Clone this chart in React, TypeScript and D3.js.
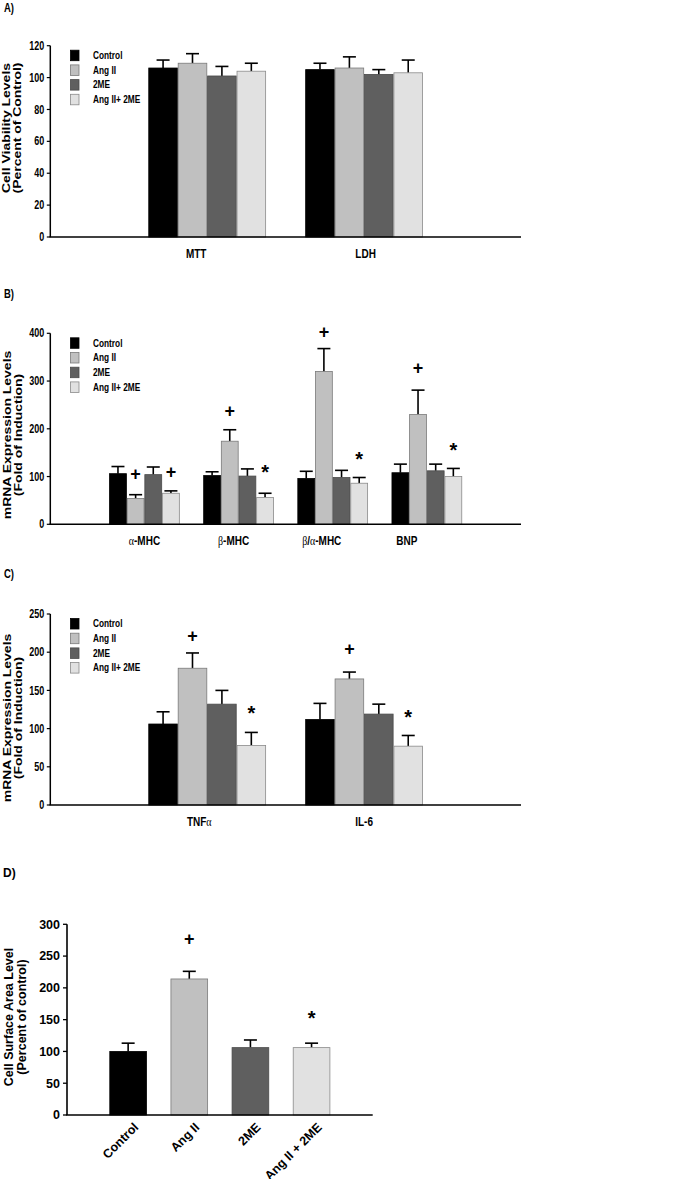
import React from 'react';
import * as d3 from 'd3';

// ---------- data ----------
const SERIES = ['Control', 'Ang II', '2ME', 'Ang II+ 2ME'];
const FILLS = ['#000000', '#c0c0c0', '#5f5f5f', '#e1e1e1'];
const STROKES = ['#000000', '#7a7a7a', '#4a4a4a', '#8a8a8a'];

const A_CATS = ['MTT', 'LDH'];
const A_VALUES = [[106, 109, 101, 104], [105, 106, 102, 103]];
const A_ERR = [[111, 115, 107, 109], [109, 113, 105, 111]];
const A_TICKS = [0, 20, 40, 60, 80, 100, 120];

const B_CATS = ['α-MHC', 'β-MHC', 'β/α-MHC', 'BNP'];
const B_VALUES = [[106, 54, 104, 65], [102, 174, 101, 56], [96, 320, 98, 86], [108, 230, 112, 100]];
const B_ERR = [[121, 62, 120, 70], [110, 198, 116, 65], [111, 368, 113, 98], [126, 281, 126, 117]];
const B_TICKS = [0, 100, 200, 300, 400];
const B_MARKS = [
  { cat: 0, s: 1, sym: '+', v: 106 },
  { cat: 0, s: 3, sym: '+', v: 110 },
  { cat: 1, s: 1, sym: '+', v: 237 },
  { cat: 1, s: 3, sym: '*', v: 121 },
  { cat: 2, s: 1, sym: '+', v: 403 },
  { cat: 2, s: 3, sym: '*', v: 147 },
  { cat: 3, s: 1, sym: '+', v: 328 },
  { cat: 3, s: 3, sym: '*', v: 167 },
];

const C_CATS = ['TNFα', 'IL-6'];
const C_VALUES = [[106, 179, 132, 78], [112, 165, 119, 77]];
const C_ERR = [[122, 199, 150, 95], [133, 174, 132, 91]];
const C_TICKS = [0, 50, 100, 150, 200, 250];
const C_MARKS = [
  { cat: 0, s: 1, sym: '+', v: 222 },
  { cat: 0, s: 3, sym: '*', v: 127 },
  { cat: 1, s: 1, sym: '+', v: 205 },
  { cat: 1, s: 3, sym: '*', v: 122 },
];

const D_CATS = ['Control', 'Ang II', '2ME', 'Ang II + 2ME'];
const D_VALUES = [100, 214, 106, 106];
const D_ERR = [113, 226, 118, 113];
const D_TICKS = [0, 50, 100, 150, 200, 250, 300];
const D_MARKS = [
  { cat: 1, sym: '+', v: 277 },
  { cat: 3, sym: '*', v: 160 },
];

const FONT = 'Liberation Sans, Arial, Helvetica, sans-serif';
const K = 1.33; // vertical stretch of panels A-C text

function SText(props: any) {
  const { x, y, k = 1, size, anchor = 'start', rotate, children, weight = 'bold' } = props;
  return (
    <text
      transform={`translate(${x},${y}) scale(1,${k})${rotate !== undefined ? ` rotate(${rotate})` : ''}`}
      fontSize={size}
      fontFamily={FONT}
      fontWeight={weight}
      textAnchor={anchor}
      fill="#000"
    >
      {children}
    </text>
  );
}

function greek(label: string) {
  const parts = label.split(/([αβ])/);
  return parts.map((p, i) =>
    p === 'α' || p === 'β' ? (
      <tspan key={i} fontFamily="Liberation Serif, serif" fontWeight="normal">{p}</tspan>
    ) : (
      <tspan key={i}>{p}</tspan>
    )
  );
}

function Mark({ x, y, sym }: any) {
  const size = sym === '*' ? 20 : 18;
  return (
    <text
      x={x}
      y={sym === '*' ? y + size * 0.6 : y + size * 0.34}
      fontSize={size}
      fontFamily={FONT}
      fontWeight="bold"
      textAnchor="middle"
    >
      {sym}
    </text>
  );
}

function GroupPanel(props: any) {
  const { label, labelY, x0, x1, yTop, yBottom, max, ticks, cats, values, errs, marks = [], yTitle, titleX, titleCY, labelShift } = props;
  const y = d3.scaleLinear().domain([0, max]).range([yBottom, yTop]);
  const xp = d3.scalePoint<string>().domain(cats).range([x0, x1]).padding(1);
  const step = xp.step();
  const gw = step * 0.75;
  const inner = d3.scaleBand<string>().domain(SERIES).range([-gw / 2, gw / 2]).padding(0);
  const bw = inner.bandwidth();
  const cap = 13;
  return (
    <g>
      <SText x={4} y={labelY} k={K} size={9.5}>{label}</SText>
      {SERIES.map((s, i) => (
        <g key={s}>
          <rect x={70.5} y={yTop + 4.5 + i * 14.7} width={8.5} height={10.5} fill={FILLS[i]} stroke={STROKES[i]} strokeWidth={0.8} />
          <SText x={93} y={yTop + 4.5 + i * 14.7 + 8.8} k={K} size={8.3}>{s}</SText>
        </g>
      ))}
      {cats.map((c: string, ci: number) => (
        <g key={c}>
          {SERIES.map((s, si) => {
            const bx = (xp(c) as number) + (inner(s) as number);
            const v = values[ci][si];
            const e = errs[ci][si];
            const cx = bx + bw / 2;
            return (
              <g key={s}>
                <line x1={cx} x2={cx} y1={y(v)} y2={y(e)} stroke="#000" strokeWidth={1.6} />
                <line x1={cx - cap / 2} x2={cx + cap / 2} y1={y(e)} y2={y(e)} stroke="#000" strokeWidth={1.6} />
                <rect x={bx + 0.4} y={y(v)} width={bw - 0.8} height={yBottom - y(v)} fill={FILLS[si]} stroke={STROKES[si]} strokeWidth={0.8} />
              </g>
            );
          })}
          <SText x={(xp(c) as number) + labelShift[ci]} y={yBottom + 20.5} k={K} size={10} anchor="middle">{greek(c)}</SText>
        </g>
      ))}
      {marks.map((m: any, i: number) => {
        const cx = (xp(cats[m.cat]) as number) + (inner(SERIES[m.s]) as number) + bw / 2;
        return <Mark key={i} x={cx} y={y(m.v)} sym={m.sym} />;
      })}
      <line x1={x0} x2={x0} y1={yTop} y2={yBottom} stroke="#000" strokeWidth={1.5} />
      <line x1={x0 - 0.75} x2={x1} y1={yBottom} y2={yBottom} stroke="#000" strokeWidth={1.5} />
      {ticks.map((t: number) => (
        <g key={t}>
          <line x1={x0 - 3.5} x2={x0} y1={y(t)} y2={y(t)} stroke="#000" strokeWidth={1.2} />
          <SText x={x0 - 6} y={y(t) + 4.1} k={K} size={9} anchor="end">{t}</SText>
        </g>
      ))}
      <SText x={titleX[0]} y={titleCY} k={K} size={10.5} anchor="middle" rotate={-90}>{yTitle[0]}</SText>
      <SText x={titleX[1]} y={titleCY} k={K} size={10.5} anchor="middle" rotate={-90}>{yTitle[1]}</SText>
    </g>
  );
}

function PanelD() {
  const x0 = 67, x1 = 372.7, yTop = 924.3, yBottom = 1115;
  const y = d3.scaleLinear().domain([0, 300]).range([yBottom, yTop]);
  const xp = d3.scalePoint<string>().domain(D_CATS).range([x0, x1]).padding(1);
  const bw = xp.step() * 0.6;
  const cap = 13;
  return (
    <g>
      <SText x={3} y={877} size={12}>D)</SText>
      {D_CATS.map((c, i) => {
        const cx = xp(c) as number;
        const v = D_VALUES[i];
        const e = D_ERR[i];
        return (
          <g key={c}>
            <line x1={cx} x2={cx} y1={y(v)} y2={y(e)} stroke="#000" strokeWidth={1.6} />
            <line x1={cx - cap / 2} x2={cx + cap / 2} y1={y(e)} y2={y(e)} stroke="#000" strokeWidth={1.6} />
            <rect x={cx - bw / 2} y={y(v)} width={bw} height={yBottom - y(v)} fill={FILLS[i]} stroke={STROKES[i]} strokeWidth={0.8} />
            <SText x={cx + 11} y={yBottom + 13} size={12.5} anchor="end" rotate={-45}>{c}</SText>
          </g>
        );
      })}
      {D_MARKS.map((m, i) => (
        <Mark key={i} x={xp(D_CATS[m.cat]) as number} y={y(m.v)} sym={m.sym} />
      ))}
      <line x1={x0} x2={x0} y1={yTop} y2={yBottom} stroke="#000" strokeWidth={1.6} />
      <line x1={x0 - 0.8} x2={x1} y1={yBottom} y2={yBottom} stroke="#000" strokeWidth={1.6} />
      {D_TICKS.map((t) => (
        <g key={t}>
          <line x1={x0 - 4} x2={x0} y1={y(t)} y2={y(t)} stroke="#000" strokeWidth={1.3} />
          <SText x={x0 - 7} y={y(t) + 4.3} size={12.5} anchor="end">{t}</SText>
        </g>
      ))}
      <SText x={13} y={1017} size={12.5} anchor="middle" rotate={-90}>Cell Surface Area Level</SText>
      <SText x={25.5} y={1017} size={12.5} anchor="middle" rotate={-90}>(Percent of control)</SText>
    </g>
  );
}

export default function App() {
  return (
    <svg
      width={685}
      height={1179}
      style={{ position: 'absolute', left: 0, top: 0, background: '#fff' }}
    >
      <rect x={0} y={0} width={685} height={1179} fill="#fff" />
      <GroupPanel
        label="A)" labelY={12}
        x0={50.3} x1={521} yTop={45.7} yBottom={237} max={120} ticks={A_TICKS}
        cats={A_CATS} values={A_VALUES} errs={A_ERR} labelShift={[-11, 1.5]}
        yTitle={['Cell Viability Levels', '(Percent of Control)']} titleX={[9.5, 20.5]} titleCY={128}
      />
      <GroupPanel
        label="B)" labelY={298}
        x0={50.3} x1={521} yTop={333.3} yBottom={524.3} max={400} ticks={B_TICKS}
        cats={B_CATS} values={B_VALUES} errs={B_ERR} marks={B_MARKS} labelShift={[0, -5, -11, -20]}
        yTitle={['mRNA Expression Levels', '(Fold of Induction)']} titleX={[11, 22]} titleCY={435}
      />
      <GroupPanel
        label="C)" labelY={578}
        x0={50.3} x1={521} yTop={614} yBottom={805} max={250} ticks={C_TICKS}
        cats={C_CATS} values={C_VALUES} errs={C_ERR} marks={C_MARKS} labelShift={[-8, 0]}
        yTitle={['mRNA Expression Levels', '(Fold of Induction)']} titleX={[11, 22]} titleCY={718}
      />
      <PanelD />
    </svg>
  );
}
